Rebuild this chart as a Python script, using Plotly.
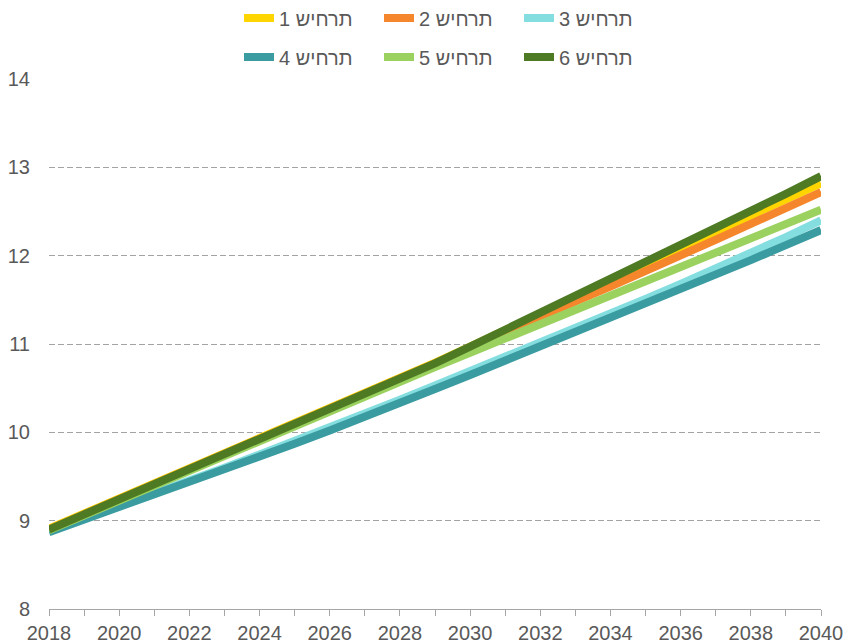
import plotly.graph_objects as go

years = list(range(2018, 2041))

names = ["תרחיש 1", "תרחיש 2", "תרחיש 3", "תרחיש 4", "תרחיש 5", "תרחיש 6"]
colors = ["#FFD500", "#F5862C", "#84DDDF", "#3A9CA0", "#9BD15F", "#4E7A23"]

s1 = [8.91, 9.08, 9.25, 9.42, 9.59, 9.76, 9.93, 10.10, 10.26, 10.43, 10.61, 10.79,
      10.97, 11.16, 11.35, 11.54, 11.73, 11.91, 12.09, 12.27, 12.45, 12.63, 12.82]
s2 = [8.90, 9.07, 9.24, 9.41, 9.58, 9.75, 9.92, 10.09, 10.25, 10.42, 10.60, 10.78,
      10.96, 11.14, 11.31, 11.48, 11.65, 11.82, 12.00, 12.18, 12.36, 12.54, 12.72]
s3 = [8.88, 9.02, 9.17, 9.31, 9.46, 9.60, 9.75, 9.90, 10.05, 10.21, 10.37, 10.53,
      10.69, 10.85, 11.02, 11.18, 11.35, 11.51, 11.68, 11.85, 12.03, 12.21, 12.40]
s4 = [8.87, 9.01, 9.16, 9.30, 9.44, 9.58, 9.72, 9.87, 10.02, 10.17, 10.33, 10.49,
      10.65, 10.81, 10.97, 11.13, 11.29, 11.45, 11.61, 11.78, 11.95, 12.12, 12.29]
s5 = [8.89, 9.06, 9.23, 9.40, 9.57, 9.74, 9.90, 10.07, 10.23, 10.40, 10.57, 10.74,
      10.90, 11.06, 11.22, 11.38, 11.54, 11.70, 11.86, 12.03, 12.19, 12.36, 12.52]
s6 = [8.90, 9.07, 9.24, 9.41, 9.58, 9.75, 9.92, 10.08, 10.25, 10.42, 10.60, 10.78,
      10.97, 11.16, 11.35, 11.54, 11.73, 11.92, 12.12, 12.31, 12.51, 12.70, 12.90]

series = [s1, s2, s3, s4, s5, s6]

x_ticklabels = [str(y) if y % 2 == 0 else "" for y in years]
y_ticks = [8, 9, 10, 11, 12, 13, 14]

FONT = "Liberation Sans, Arial, sans-serif"
TXT = "#595959"

fig = go.Figure()
for i, (name, vals, col) in enumerate(zip(names, series, colors)):
    fig.add_trace(go.Scatter(
        x=years, y=vals, mode="lines", name=name,
        line=dict(color=col, width=8),
        legend="legend" if i < 3 else "legend2",
        hoverinfo="skip",
    ))

legend_common = dict(
    orientation="h", xref="container", yref="container",
    xanchor="left", yanchor="middle",
    font=dict(family=FONT, size=20, color=TXT),
    entrywidth=95, entrywidthmode="pixels",
    bgcolor="rgba(0,0,0,0)", tracegroupgap=0, itemwidth=30,
)

fig.update_layout(
    width=847, height=643,
    margin=dict(l=49, r=26, t=79, b=34, autoexpand=False),
    paper_bgcolor="white", plot_bgcolor="white",
    font=dict(family=FONT, size=20, color=TXT),
    showlegend=True,
    legend=dict(x=239 / 847, y=1 - 18 / 643, **legend_common),
    legend2=dict(x=239 / 847, y=1 - 57 / 643, **legend_common),
    xaxis=dict(
        range=[2018, 2040], tickmode="array", tickvals=years, ticktext=x_ticklabels,
        showgrid=False, zeroline=False, showline=True, linecolor="#A6A6A6", linewidth=1,
        ticks="outside", ticklen=6, tickcolor="#A6A6A6", tickwidth=1,
        tickfont=dict(family=FONT, size=20, color=TXT), ticklabelstandoff=0,
    ),
    yaxis=dict(
        range=[8, 14], tickmode="array", tickvals=y_ticks,
        showgrid=True, gridcolor="#A3A3A3", gridwidth=1, griddash="6px,3px",
        zeroline=False, showline=False, ticks="",
        tickfont=dict(family=FONT, size=20, color=TXT), ticklabelstandoff=18,
    ),
)

fig.write_html(
    "out.html",
    config={"displayModeBar": False},
    post_script="document.body.style.margin='0';document.body.style.overflow='hidden';",
)
